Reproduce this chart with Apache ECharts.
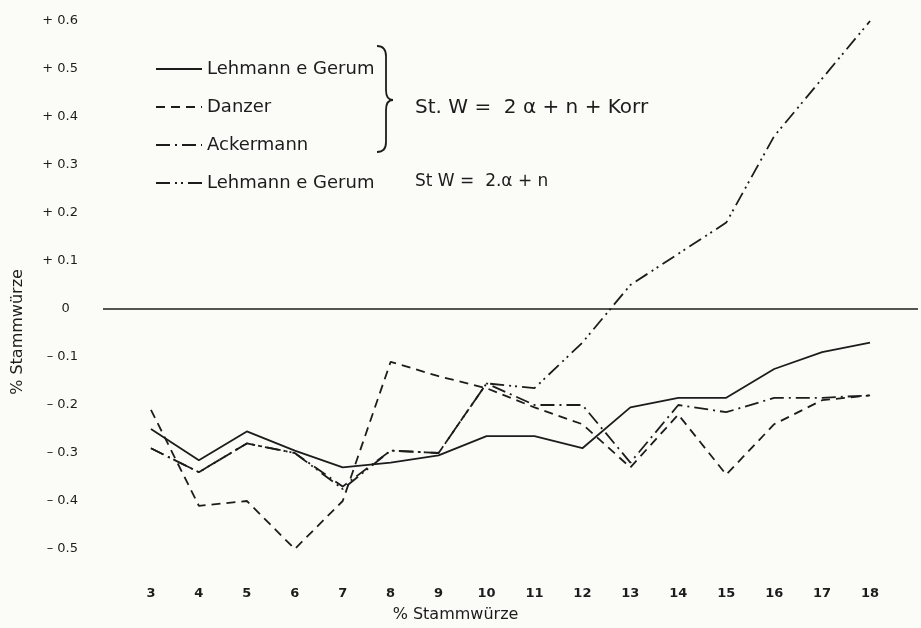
<!DOCTYPE html>
<html>
<head>
<meta charset="utf-8">
<script src="https://cdn.jsdelivr.net/npm/echarts@6/dist/echarts.min.js"></script>
<style>
  html, body { margin: 0; padding: 0; background: #fbfbf8; }
  #chart { width: 921px; height: 628px; }
</style>
</head>
<body>
<div id="chart"></div>
<script>
// % Stammwürze on the x axis
const stammwuerze = [3, 4, 5, 6, 7, 8, 9, 10, 11, 12, 13, 14, 15, 16, 17, 18]

// deviations, St W = 2a + n + Korr
const lehmannGerum = [-0.25, -0.315, -0.255, -0.295, -0.33, -0.32, -0.305, -0.265, -0.265, -0.29, -0.205, -0.185, -0.185, -0.125, -0.09, -0.07]
const danzer = [-0.21, -0.41, -0.40, -0.50, -0.40, -0.11, -0.14, -0.165, -0.205, -0.24, -0.33, -0.22, -0.345, -0.24, -0.19, -0.18]
const ackermann = [-0.29, -0.34, -0.28, -0.30, -0.37, -0.295, -0.30, -0.155, -0.20, -0.20, -0.32, -0.20, -0.215, -0.185, -0.185, -0.18]

// deviations, St W = 2a + n
const lehmannGerumOhneKorr = [-0.29, -0.34, -0.28, -0.30, -0.375, -0.295, -0.30, -0.155, -0.165, -0.07, 0.05, 0.115, 0.18, 0.36, 0.48, 0.60]

const yTicks = [-0.5, -0.4, -0.3, -0.2, -0.1, 0, 0.1, 0.2, 0.3, 0.4, 0.5, 0.6]

const ink = '#1c1c1c'
const font = 'DejaVu Sans'

const pairs = (arr) => stammwuerze.map((x, i) => [x, arr[i]])

const legendNames = {
  lg1: 'Lehmann e Gerum',
  danzer: 'Danzer',
  ackermann: 'Ackermann',
  lg2: 'Lehmann e Gerum'
}

const lineSeries = (id, data, type) => ({
  name: id,
  type: 'line',
  data: pairs(data),
  symbol: 'none',
  lineStyle: { color: ink, width: 1.8, type: type },
  itemStyle: { color: ink }
})

// curly brace next to the first three legend rows
const braceStyle = { fill: 'none', stroke: ink, lineWidth: 1.8 }
const brace = {
  type: 'group',
  x: 377,
  y: 46,
  children: [
    { type: 'bezierCurve', shape: { x1: 0, y1: 0, cpx1: 9, cpy1: 0, x2: 9, y2: 10 }, style: braceStyle },
    { type: 'line', shape: { x1: 9, y1: 10, x2: 9, y2: 44 }, style: braceStyle },
    { type: 'bezierCurve', shape: { x1: 9, y1: 44, cpx1: 9, cpy1: 54, x2: 16, y2: 54 }, style: braceStyle },
    { type: 'bezierCurve', shape: { x1: 16, y1: 54, cpx1: 9, cpy1: 54, x2: 9, y2: 64 }, style: braceStyle },
    { type: 'line', shape: { x1: 9, y1: 64, x2: 9, y2: 96 }, style: braceStyle },
    { type: 'bezierCurve', shape: { x1: 9, y1: 96, cpx1: 9, cpy1: 106, x2: 0, y2: 106 }, style: braceStyle }
  ]
}

const chart = echarts.init(document.getElementById('chart'))

const option = {
  animation: false,
  backgroundColor: '#fbfbf8',
  grid: { left: 103, right: -5, top: 21, bottom: 76 },
  xAxis: {
    type: 'value',
    min: 2,
    max: 19,
    interval: 1,
    axisLine: { show: false },
    axisTick: { show: false },
    splitLine: { show: false },
    axisLabel: {
      color: ink,
      fontFamily: font,
      fontSize: 13,
      fontWeight: 'bold',
      margin: 38,
      formatter: (v) => (stammwuerze.includes(v) ? String(v) : '')
    },
    name: '% Stammwürze',
    nameLocation: 'middle',
    nameGap: 58,
    nameTextStyle: { color: ink, fontFamily: font, fontSize: 16, padding: [0, 110, 0, 0] }
  },
  yAxis: {
    type: 'value',
    min: yTicks[0],
    max: yTicks[yTicks.length - 1],
    interval: 0.1,
    axisLine: { show: false },
    axisTick: { show: false },
    splitLine: { show: false },
    axisLabel: {
      color: ink,
      fontFamily: font,
      fontSize: 13,
      margin: 25,
      formatter: (v) => {
        const r = Math.round(v * 10) / 10
        if (r === 0) return '0  '
        return (r > 0 ? '+ ' : '– ') + Math.abs(r).toFixed(1)
      }
    }
  },
  legend: {
    orient: 'vertical',
    left: 150,
    top: 55,
    itemWidth: 46,
    itemHeight: 14,
    itemGap: 20,
    data: ['lg1', 'danzer', 'ackermann', 'lg2'],
    formatter: (n) => legendNames[n],
    itemStyle: { opacity: 0 },
    textStyle: { color: ink, fontFamily: font, fontSize: 18 },
    selectedMode: false
  },
  graphic: [
    brace,
    {
      type: 'text',
      x: 415,
      y: 108,
      style: {
        text: 'St. W =  2 α + n + Korr',
        fill: ink,
        font: '20px "DejaVu Sans"',
        verticalAlign: 'middle'
      }
    },
    {
      type: 'text',
      x: 415,
      y: 182,
      style: {
        text: 'St W =  2.α + n',
        fill: ink,
        font: '17px "DejaVu Sans"',
        verticalAlign: 'middle'
      }
    },
    {
      type: 'text',
      x: 18,
      y: 332,
      rotation: Math.PI / 2,
      style: {
        text: '% Stammwürze',
        fill: ink,
        font: '16px "DejaVu Sans"',
        align: 'center',
        verticalAlign: 'middle'
      }
    }
  ],
  series: [
    Object.assign(lineSeries('lg1', lehmannGerum, 'solid'), {
      markLine: {
        silent: true,
        symbol: 'none',
        label: { show: false },
        lineStyle: { color: ink, width: 1.6, type: 'solid' },
        data: [{ yAxis: 0 }]
      }
    }),
    lineSeries('danzer', danzer, [9, 6]),
    lineSeries('ackermann', ackermann, [14, 5, 2, 5]),
    lineSeries('lg2', lehmannGerumOhneKorr, [14, 5, 2, 4, 2, 5])
  ]
}

chart.setOption(option)
</script>
</body>
</html>
